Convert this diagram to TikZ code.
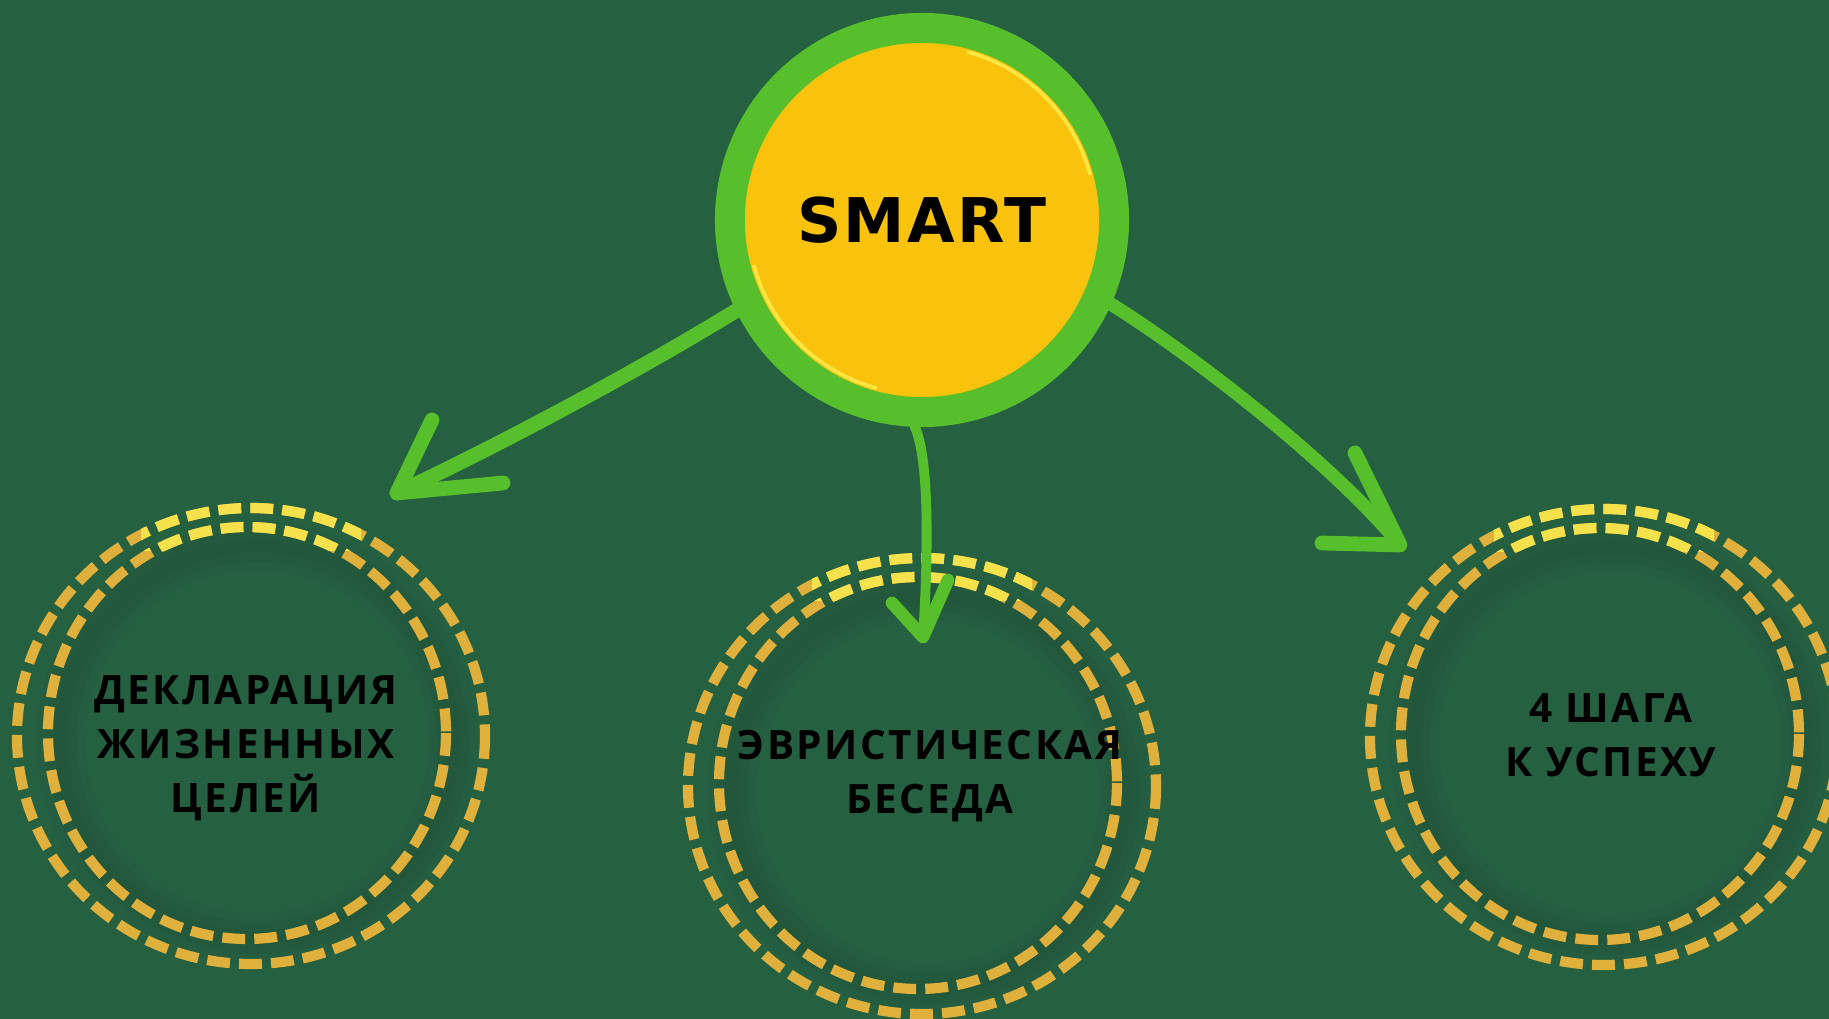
\documentclass[tikz,border=0pt]{standalone}
\usepackage{fontspec}
\usepackage{tikz}
\newfontfamily\smartfont[LetterSpace=4]{DejaVu Sans}
\newfontfamily\capfont[LetterSpace=6]{Open Sans}
\definecolor{boardgreen}{RGB}{37,96,65}
\definecolor{ringgreen}{RGB}{86,191,43}
\definecolor{coinyellow}{RGB}{249,194,13}
\definecolor{coinshine}{RGB}{255,240,80}
\definecolor{gold}{RGB}{224,176,60}
\definecolor{goldlight}{RGB}{245,225,75}

\begin{document}
\begin{tikzpicture}[x = 0.01cm, y = -0.01cm,
  coin/.style = {circle, draw = ringgreen, line width = 8.5pt, fill = coinyellow, minimum size = 3.84cm, font = \smartfont\bfseries\fontsize{17.5}{20}\selectfont},
  caption/.style = {align = center, font = \capfont\bfseries\fontsize{11.5}{15.4}\selectfont},
  chalk/.style = {ringgreen, line width = 4.2pt, line cap = round, line join = round},
  goldline/.style = {line width = 2.9pt, dash pattern = on 6.5pt off 2.6pt}]

\fill[boardgreen] (0, 0) rectangle (1829, 1019);
\useasboundingbox (0, 0) rectangle (1829, 1019);

\foreach \x/\y in {251/736, 922/786, 1604/737} {
  \foreach \w in {4, 9, 14}
    \draw[black, opacity = 0.025, line width = \w pt] (\x + 6, \y + 6) circle [radius = 196];
  \draw[goldline, gold] (\x, \y) ellipse [x radius = 234, y radius = 228];
  \draw[goldline, gold] (\x - 4, \y - 3) ellipse [x radius = 199, y radius = 206];
  \begin{scope}
    \clip (\x - 110, \y - 250) rectangle (\x + 110, \y - 185);
    \draw[goldline, goldlight] (\x, \y) ellipse [x radius = 234, y radius = 228];
    \draw[goldline, goldlight] (\x - 4, \y - 3) ellipse [x radius = 199, y radius = 206];
  \end{scope}
}

\node (smart) at (922, 220) [coin] {SMART};
\draw[coinshine, opacity = 0.8, line width = 1pt] (smart.center) ++(15:1.74cm) arc [start angle = 15, end angle = 75, radius = 1.74cm];
\draw[coinshine, opacity = 0.8, line width = 1pt] (smart.center) ++(195:1.74cm) arc [start angle = 195, end angle = 255, radius = 1.74cm];

\node (decl) at (246, 748) [caption] {ДЕКЛАРАЦИЯ\\ЖИЗНЕННЫХ\\ЦЕЛЕЙ};
\node (talk) at (930, 776) [caption] {ЭВРИСТИЧЕСКАЯ\\БЕСЕДА};
\node (steps) at (1611, 735) [caption] {4 ШАГА\\К УСПЕХУ};

\coordinate (tipL) at (397, 493);
\coordinate (tipM) at (923, 637);
\coordinate (tipR) at (1400, 545);

\draw[chalk] (smart.206) .. controls (640, 370) and (490, 450) .. (tipL);
\draw[chalk] (432, 420) -- (tipL) -- (503, 483);

\draw[chalk, line width = 2.8pt] (smart.268) .. controls (930, 460) and (928, 560) .. (tipM);
\draw[chalk, line width = 3.6pt] (892, 603) -- (tipM) -- (948, 580);

\draw[chalk, line width = 3.8pt] (smart.-24) .. controls (1185, 350) and (1330, 460) .. (tipR);
\draw[chalk] (1355, 453) -- (tipR) -- (1322, 543);

\end{tikzpicture}
\end{document}
